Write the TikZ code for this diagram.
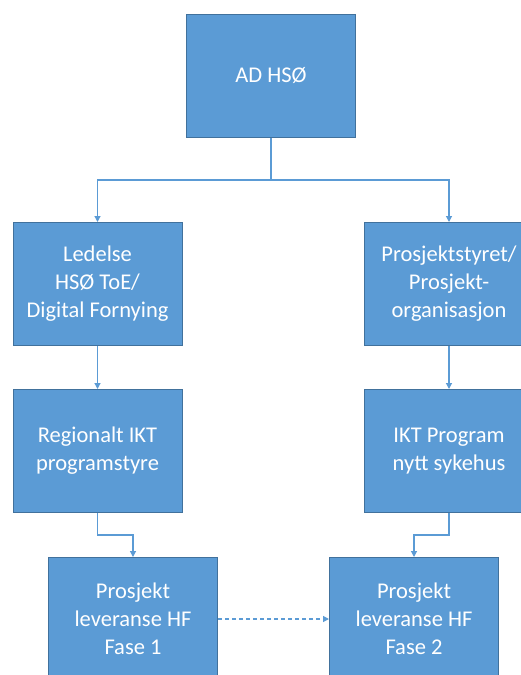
\documentclass[tikz,border=0pt]{standalone}
\usepackage{fontspec}
\setmainfont{Carlito}
\usetikzlibrary{arrows.meta}
\definecolor{boxfill}{HTML}{5B9BD5}
\definecolor{boxline}{HTML}{41719C}
\tikzset{
  orgbox/.style={draw=boxline, line width=1pt, fill=boxfill, text=white,
    minimum width=169pt, minimum height=123pt, align=center, inner sep=2pt,
    font=\fontsize{22.5pt}{28pt}\selectfont},
  conn/.style={draw=boxfill, line width=1.2pt, -{Triangle[length=6pt,width=6pt]}},
  dashconn/.style={conn, dash pattern=on 4pt off 3pt}
}
\begin{document}
\begin{tikzpicture}[x=1pt,y=-1pt]
\clip (0,0) rectangle (521,675);
\fill[white] (0,0) rectangle (521,675);
\node[orgbox] (ad) at (271,75.5) {AD HSØ};
\node[orgbox] (led) at (97.5,284) {Ledelse\\HSØ ToE/\\Digital Fornying};
\node[orgbox] (ps) at (449,284) {Prosjektstyret/\\Prosjekt-\\organisasjon};
\node[orgbox] (reg) at (97.5,451) {Regionalt IKT\\programstyre};
\node[orgbox] (ikt) at (449,451) {IKT Program\\nytt sykehus};
\node[orgbox] (f1) at (133,619) {Prosjekt\\leveranse HF\\Fase 1};
\node[orgbox] (f2) at (414,619) {Prosjekt\\leveranse HF\\Fase 2};
\coordinate (hub) at (271,180);
\draw[conn] (ad.south) -- (hub) -| (led.north);
\draw[conn] (hub) -| (ps.north);
\draw[conn] (led.south) -- (reg.north);
\draw[conn] (ps.south) -- (ikt.north);
\draw[conn] (reg.south) -- ++(0,22) -| (f1.north);
\draw[conn] (ikt.south) -- ++(0,22) -| (f2.north);
\draw[dashconn] (f1.east) -- (f2.west);
\end{tikzpicture}
\end{document}
